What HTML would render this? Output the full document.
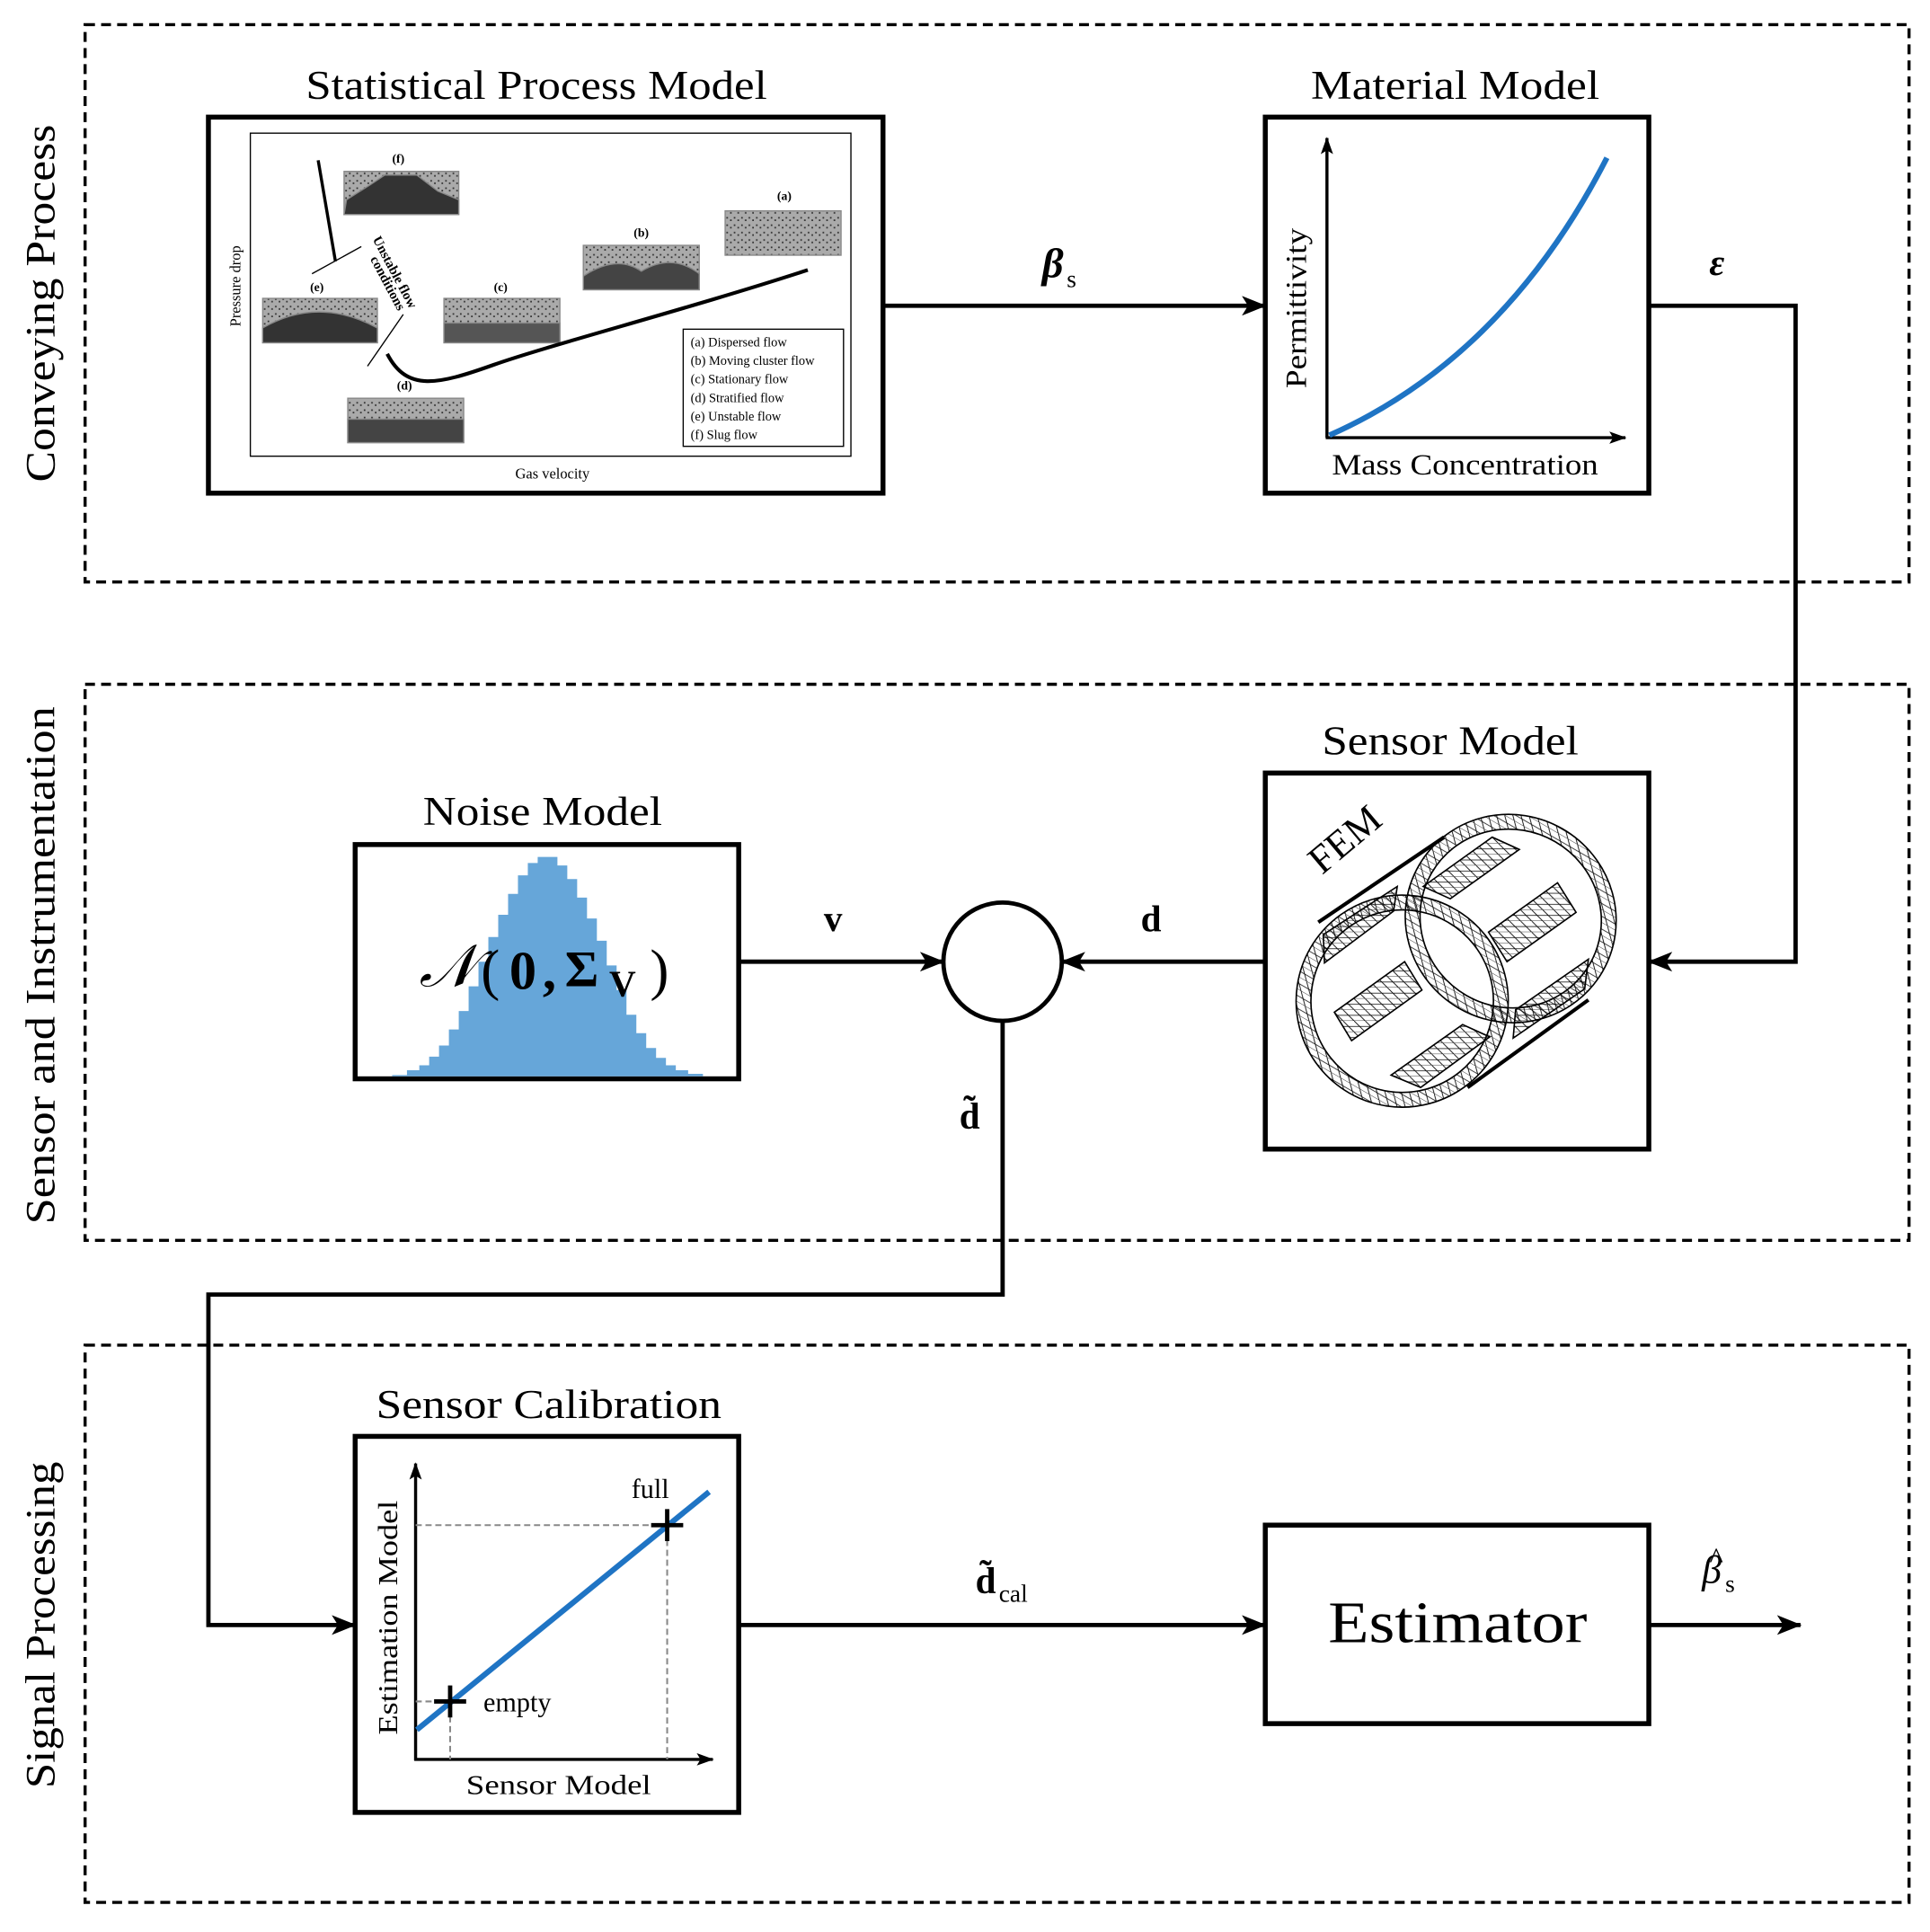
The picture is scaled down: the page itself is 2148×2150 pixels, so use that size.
<!DOCTYPE html>
<html><head><meta charset="utf-8"><style>
html,body{margin:0;padding:0;background:#fff}
svg{display:block}
text{font-family:"Liberation Serif",serif;fill:#000}
</style></head><body>
<svg width="2148" height="2150" viewBox="0 0 1565 1567" preserveAspectRatio="none" xmlns="http://www.w3.org/2000/svg">
<defs>
<marker id="ah" viewBox="0 0 20 16" refX="19" refY="8" markerWidth="20" markerHeight="16" markerUnits="userSpaceOnUse" orient="auto"><path d="M0,0 L20,8 L0,16 L5,8 z" fill="#000"/></marker>
<marker id="sa" viewBox="0 0 14 10" refX="13" refY="5" markerWidth="14" markerHeight="10" markerUnits="userSpaceOnUse" orient="auto"><path d="M0,0 L14,5 L0,10 L3,5 z" fill="#000"/></marker>
<pattern id="mesh" width="9" height="9" patternUnits="userSpaceOnUse"><path d="M0,0 L9,9 M0,9 H9 M0,4.5 H9" stroke="#000" stroke-width="0.6"/></pattern>
<pattern id="dots" width="6" height="6" patternUnits="userSpaceOnUse"><rect width="6" height="6" fill="#aaa"/><rect x="1" y="2" width="1.3" height="1.3" fill="#333"/><rect x="4" y="4" width="1.3" height="1.3" fill="#333"/></pattern>
</defs>
<g fill="none" stroke="#000" stroke-width="2.5" stroke-dasharray="8,5">
<rect x="69" y="20" width="1479" height="452"/>
<rect x="69" y="555" width="1479" height="451"/>
<rect x="69" y="1091" width="1479" height="452"/>
</g>
<g font-size="34" text-anchor="middle">
<text transform="translate(44,246) rotate(-90)" textLength="290" lengthAdjust="spacingAndGlyphs">Conveying Process</text>
<text transform="translate(44,783) rotate(-90)" textLength="420" lengthAdjust="spacingAndGlyphs">Sensor and Instrumentation</text>
<text transform="translate(44,1318) rotate(-90)" textLength="265" lengthAdjust="spacingAndGlyphs">Signal Processing</text>
</g>
<g font-size="33" text-anchor="middle">
<text x="435" y="80" textLength="374" lengthAdjust="spacingAndGlyphs">Statistical Process Model</text>
<text x="1180" y="80" textLength="234" lengthAdjust="spacingAndGlyphs">Material Model</text>
<text x="1176" y="612" textLength="208" lengthAdjust="spacingAndGlyphs">Sensor Model</text>
<text x="440" y="669" textLength="194" lengthAdjust="spacingAndGlyphs">Noise Model</text>
<text x="445" y="1150" textLength="280" lengthAdjust="spacingAndGlyphs">Sensor Calibration</text>
</g>
<rect x="169" y="95" width="547" height="305" fill="#fff" stroke="#000" stroke-width="4"/>
<rect x="203" y="108" width="487" height="262" fill="none" stroke="#000" stroke-width="1"/>
<g stroke="#888" stroke-width="1">
<rect x="279" y="139" width="93" height="35" fill="url(#dots)"/>
<path d="M281,162 L300,150 L312,142 H338 L355,155 L372,162 V174 H279 Z" fill="#333"/>
<rect x="588" y="171" width="94" height="36" fill="url(#dots)"/>
<rect x="473" y="199" width="94" height="36" fill="url(#dots)"/>
<path d="M473,224 Q500,206 520,220 Q545,205 567,222 V235 H473 Z" fill="#444"/>
<rect x="213" y="242" width="93" height="36" fill="url(#dots)"/>
<path d="M213,266 Q258,240 306,266 V278 H213 Z" fill="#333"/>
<rect x="360" y="242" width="94" height="36" fill="url(#dots)"/>
<rect x="360" y="262" width="94" height="16" fill="#555"/>
<rect x="282" y="323" width="94" height="36" fill="url(#dots)"/>
<rect x="282" y="340" width="94" height="19" fill="#444"/>
</g>
<g font-size="10" text-anchor="middle" font-weight="bold">
<text x="323" y="132">(f)</text><text x="636" y="162">(a)</text><text x="520" y="192">(b)</text>
<text x="257" y="236">(e)</text><text x="406" y="236">(c)</text><text x="328" y="316">(d)</text>
</g>
<path d="M258,130 L272,212" stroke="#000" stroke-width="2.5" fill="none"/>
<path d="M253,222 L293,200 M298,297 L327,255" stroke="#000" stroke-width="1"/>
<path d="M314,287 C330,318 355,312 400,296 S 560,250 655,219" stroke="#000" stroke-width="3" fill="none"/>
<text font-size="11" font-weight="bold" transform="translate(302,194) rotate(62)">Unstable flow</text>
<text font-size="11" font-weight="bold" transform="translate(300,210) rotate(62)">conditions</text>
<text font-size="12" text-anchor="middle" transform="translate(195,232) rotate(-90)">Pressure drop</text>
<text font-size="12" x="448" y="388" text-anchor="middle">Gas velocity</text>
<rect x="554" y="267" width="130" height="95" fill="#fff" stroke="#000" stroke-width="1"/>
<g font-size="10.5">
<text x="560" y="281">(a) Dispersed flow</text><text x="560" y="296">(b) Moving cluster flow</text>
<text x="560" y="311">(c) Stationary flow</text><text x="560" y="326">(d) Stratified flow</text>
<text x="560" y="341">(e) Unstable flow</text><text x="560" y="356">(f) Slug flow</text>
</g>
<rect x="1026" y="95" width="311" height="305" fill="#fff" stroke="#000" stroke-width="4"/>
<path d="M1076,355 V112" stroke="#000" stroke-width="2.5" marker-end="url(#sa)"/>
<path d="M1075,355 H1318" stroke="#000" stroke-width="2.5" marker-end="url(#sa)"/>
<path d="M1078,353 Q1220,290 1303,128" stroke="#1f74c4" stroke-width="4.5" fill="none"/>
<text font-size="24" text-anchor="middle" transform="translate(1059,250) rotate(-90)" textLength="130" lengthAdjust="spacingAndGlyphs">Permittivity</text>
<text font-size="24" x="1188" y="385" text-anchor="middle" textLength="216" lengthAdjust="spacingAndGlyphs">Mass Concentration</text>
<path d="M716,248 H1026" stroke="#000" stroke-width="3.5" fill="none" marker-end="url(#ah)"/>
<text x="845" y="225" font-size="34" font-style="italic" font-weight="bold">β</text><text x="865" y="233" font-size="20">s</text>
<path d="M1337,248 H1456 V780 H1337" stroke="#000" stroke-width="3.5" fill="none" marker-end="url(#ah)"/>
<text x="1386" y="223" font-size="30" font-style="italic" font-weight="bold">ε</text>
<rect x="1026" y="627" width="311" height="305" fill="#fff" stroke="#000" stroke-width="4"/>
<text font-size="32" transform="translate(1072,710) rotate(-40)">FEM</text>
<g fill="none" stroke="#000" stroke-width="1.2">
<path d="M1069,748 L1171,679 M1190,882 L1288,811" stroke-width="3"/>
<g transform="rotate(30 1225 745)"><ellipse cx="1225" cy="745" rx="80" ry="78" stroke="url(#mesh)" stroke-width="12"/><ellipse cx="1225" cy="745" rx="86" ry="84"/><ellipse cx="1225" cy="745" rx="74" ry="72"/></g>
<g transform="rotate(30 1137 812)"><ellipse cx="1137" cy="812" rx="80" ry="80" stroke="url(#mesh)" stroke-width="12"/><ellipse cx="1137" cy="812" rx="86" ry="86"/><ellipse cx="1137" cy="812" rx="74" ry="74"/></g>
<g fill="url(#mesh)">
<polygon points="1154,719 1210,679 1232,689 1176,729"/>
<polygon points="1207,756 1263,716 1278,740 1222,780"/>
<polygon points="1082,821 1139,780 1153,803 1096,844"/>
<polygon points="1128,872 1186,831 1208,841 1152,882"/>
<polygon points="1073,758 1133,719 1130,739 1074,781"/>
<polygon points="1229,819 1288,778 1285,802 1227,842"/>
</g>
</g>
<rect x="288" y="685" width="311" height="190" fill="#fff" stroke="#000" stroke-width="4"/>
<path d="M318,873 V872 H330 V868 H340 V864 H348 V857 H356 V848 H364 V835 H372 V820 H380 V800 H388 V780 H396 V760 H404 V742 H412 V725 H420 V710 H428 V700 H436 V695 H444 V695 H452 V702 H460 V713 H468 V728 H476 V745 H484 V763 H492 V783 H500 V803 H508 V823 H516 V838 H524 V850 H532 V858 H540 V864 H548 V868 H558 V871 H570 V873 Z" fill="#66a6d9"/>
<text x="340" y="800" font-size="48" font-style="italic">𝒩</text>
<text x="390" y="802" font-size="46">(</text>
<text x="413" y="802" font-size="44" font-weight="bold">0</text>
<text x="440" y="802" font-size="44" font-weight="bold">,</text>
<text x="458" y="800" font-size="42" font-weight="bold">Σ</text>
<text x="494" y="808" font-size="30" font-weight="bold">V</text>
<text x="527" y="802" font-size="46">)</text>
<circle cx="813" cy="780" r="48" fill="#fff" stroke="#000" stroke-width="3.5"/>
<path d="M599,780 H765" stroke="#000" stroke-width="3.5" marker-end="url(#ah)"/>
<path d="M1026,780 H861" stroke="#000" stroke-width="3.5" marker-end="url(#ah)"/>
<text x="668" y="755" font-size="30" font-weight="bold">v</text>
<text x="925" y="755" font-size="30" font-weight="bold">d</text>
<text x="778" y="915" font-size="30" font-weight="bold">d̃</text>
<path d="M813,828 V1050 H169 V1318 H288" stroke="#000" stroke-width="3.5" fill="none" marker-end="url(#ah)"/>
<rect x="288" y="1165" width="311" height="305" fill="#fff" stroke="#000" stroke-width="4"/>
<path d="M337,1428 V1187" stroke="#000" stroke-width="2.5" marker-end="url(#sa)"/>
<path d="M336,1427 H578" stroke="#000" stroke-width="2.5" marker-end="url(#sa)"/>
<path d="M337,1380 H365 V1427 M337,1237 H541 V1427" stroke="#888" stroke-width="1.5" stroke-dasharray="5,3" fill="none"/>
<path d="M338,1403 L575,1210" stroke="#1f74c4" stroke-width="4.5"/>
<path d="M352,1380 H378 M365,1367 V1393 M528,1237 H554 M541,1224 V1250" stroke="#000" stroke-width="3.5"/>
<text x="392" y="1388" font-size="22">empty</text>
<text x="512" y="1215" font-size="22">full</text>
<text font-size="22" text-anchor="middle" transform="translate(322,1312) rotate(-90)" textLength="190" lengthAdjust="spacingAndGlyphs">Estimation Model</text>
<text x="453" y="1455" font-size="22" text-anchor="middle" textLength="150" lengthAdjust="spacingAndGlyphs">Sensor Model</text>
<rect x="1026" y="1237" width="311" height="161" fill="#fff" stroke="#000" stroke-width="4"/>
<text x="1182" y="1332" font-size="48" text-anchor="middle" textLength="210" lengthAdjust="spacingAndGlyphs">Estimator</text>
<path d="M599,1318 H1026" stroke="#000" stroke-width="3.5" marker-end="url(#ah)"/>
<text x="791" y="1292" font-size="30" font-weight="bold">d̃</text><text x="810" y="1299" font-size="20">cal</text>
<path d="M1337,1318 H1460" stroke="#000" stroke-width="3.5" marker-end="url(#ah)"/>
<text x="1380" y="1284" font-size="32" font-style="italic">β</text><text x="1386" y="1272" font-size="24">^</text><text x="1399" y="1291" font-size="20">s</text>
</svg>
</body></html>
